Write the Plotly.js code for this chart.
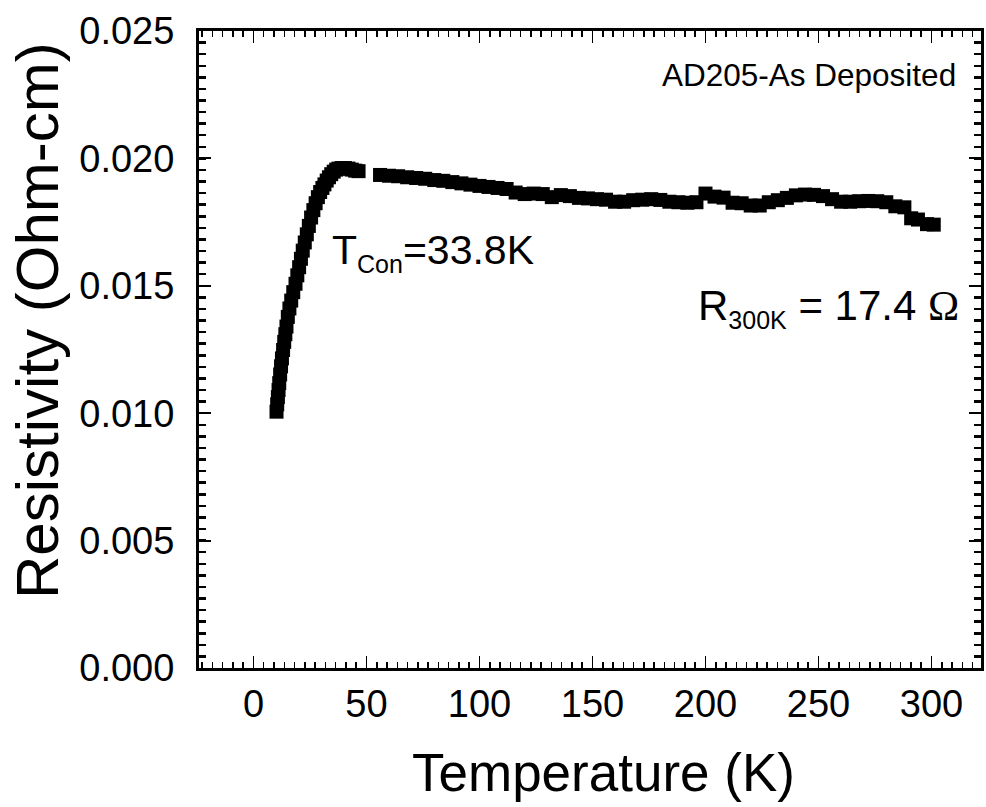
<!DOCTYPE html>
<html><head><meta charset="utf-8">
<script src="https://cdn.plot.ly/plotly-3.0.1.min.js"></script>
<style>html,body{margin:0;padding:0;background:#fff}</style>
</head><body>
<div id="chart" style="width:986px;height:807px"></div>
<script>
// Temperature (K) and resistivity (Ohm-cm)
const temperature = [
  10.2, 10.5, 10.8, 11.1, 11.4, 11.8, 12.2, 12.6, 13.1, 13.6, 14.1, 14.6, 15.2, 15.9, 16.7, 17.6,
  18.6, 19.4, 20.2, 21.0, 21.8, 22.7, 23.6, 24.5, 25.5, 26.5, 27.5, 28.5, 29.5, 30.5, 31.4, 32.4,
  33.4, 34.4, 35.5, 36.6, 37.6, 39.0, 40.5, 42.0, 43.5, 45.0, 46.5,
  56, 60, 64, 68, 72, 76, 80, 84, 88, 92, 96, 100, 104, 108, 112, 116, 120, 124, 128, 132, 136,
  140, 144, 148, 152, 156, 160, 164, 168, 172, 176, 180, 184, 188, 192, 196, 200, 204, 208, 212,
  216, 220, 224, 228, 232, 236, 240, 244, 248, 252, 256, 260, 264, 268, 272, 276, 280, 284, 288,
  291, 294, 298, 301
];
const resistivity = [
  0.01006, 0.01035, 0.01063, 0.01091, 0.01118, 0.01152, 0.01184, 0.01215, 0.01248, 0.01280, 0.01310,
  0.01340, 0.01378, 0.01411, 0.01442, 0.01475, 0.01508, 0.01541, 0.01573, 0.01606, 0.01638, 0.01670,
  0.01702, 0.01735, 0.01768, 0.01797, 0.01824, 0.01848, 0.01868, 0.01884, 0.01898, 0.01913, 0.01926,
  0.01938, 0.01948, 0.01956, 0.01960, 0.01962, 0.01962, 0.01960, 0.01956, 0.01952, 0.01950,
  0.01935, 0.01932, 0.01930, 0.01926, 0.01923, 0.01920, 0.01915, 0.01912, 0.01907, 0.01902, 0.01897,
  0.01892, 0.01888, 0.01884, 0.01880, 0.01866, 0.01860, 0.01862, 0.01860, 0.01848, 0.01856, 0.01852,
  0.01845, 0.01843, 0.01840, 0.01838, 0.01830, 0.01830, 0.01836, 0.01838, 0.01840, 0.01837, 0.01830,
  0.01828, 0.01826, 0.01828, 0.01862, 0.01850, 0.01846, 0.01826, 0.01824, 0.01815, 0.01815, 0.01828,
  0.01836, 0.01845, 0.01855, 0.01858, 0.01857, 0.01852, 0.01840, 0.01830, 0.01830, 0.01832, 0.01833,
  0.01832, 0.01828, 0.01812, 0.01808, 0.01765, 0.01760, 0.01742, 0.01740
];
const xTickVals = [0, 50, 100, 150, 200, 250, 300];
const xTickText = ['0', '50', '100', '150', '200', '250', '300'];
const yTickVals = [0, 0.005, 0.010, 0.015, 0.020, 0.025];
const yTickText = ['0.000', '0.005', '0.010', '0.015', '0.020', '0.025'];
const xTitle = 'Temperature (K)';
const yTitle = 'Resistivity (Ohm-cm)';

const FONT = 'Liberation Sans, Arial, sans-serif';

const trace = {
  x: temperature,
  y: resistivity,
  type: 'scatter',
  mode: 'markers',
  marker: {symbol: 'square', size: 14, color: '#000', line: {width: 0}},
  hoverinfo: 'x+y',
  showlegend: false
};

const axisCommon = {
  showline: true, linecolor: '#000', linewidth: 3, mirror: 'allticks',
  showgrid: false, zeroline: false,
  ticks: 'inside', tickcolor: '#000', tickmode: 'array',
  tickfont: {family: FONT, size: 38, color: '#000'}
};

const layout = {
  width: 986, height: 807,
  margin: {l: 198.5, r: 4.5, t: 30.5, b: 138.5, pad: 0},
  paper_bgcolor: '#fff', plot_bgcolor: '#fff',
  font: {family: FONT, color: '#000'},
  xaxis: Object.assign({}, axisCommon, {
    range: [-24.1, 321.9],
    tickvals: xTickVals, ticktext: xTickText,
    ticklen: 12, tickwidth: 1.5, ticklabelstandoff: 0,
    minor: {ticks: 'inside', tickmode: 'linear', tick0: 0, dtick: 50 / 11, ticklen: 6, tickwidth: 1.5, tickcolor: '#000'}
  }),
  yaxis: Object.assign({}, axisCommon, {
    range: [0, 0.025],
    tickvals: yTickVals, ticktext: yTickText,
    ticklen: 12, tickwidth: 2, ticklabelstandoff: 14,
    minor: {ticks: 'inside', tickmode: 'linear', tick0: 0, dtick: 0.005 / 11, ticklen: 7, tickwidth: 2.5, tickcolor: '#000'}
  }),
  annotations: [
    // axis titles (placed as in the reference, slightly off-centre)
    {xref: 'paper', yref: 'paper', x: 0.5179, y: -0.1647, xanchor: 'center', yanchor: 'middle',
     text: xTitle, showarrow: false, font: {family: FONT, size: 53, color: '#000'}},
    {xref: 'paper', yref: 'paper', x: -0.2073, y: 0.5462, xanchor: 'center', yanchor: 'middle', textangle: -90,
     text: yTitle, showarrow: false, font: {family: FONT, size: 60, color: '#000'}},
    {xref: 'paper', yref: 'paper', x: 0.970, y: 0.931, xanchor: 'right', yanchor: 'middle',
     text: 'AD205-As Deposited', showarrow: false, font: {family: FONT, size: 31.5, color: '#000'}},
    {xref: 'paper', yref: 'paper', x: 0.168, y: 0.652, xanchor: 'left', yanchor: 'middle',
     text: 'T<sub><span style="font-size:25px">Con</span></sub>=33.8K', showarrow: false,
     font: {family: FONT, size: 41, color: '#000'}},
    {xref: 'paper', yref: 'paper', x: 0.636, y: 0.565, xanchor: 'left', yanchor: 'middle',
     text: 'R<sub><span style="font-size:25px">300K</span></sub> = 17.4 <span style="font-family:Liberation Serif">Ω</span>', showarrow: false,
     font: {family: FONT, size: 42, color: '#000'}}
  ]
};

Plotly.newPlot('chart', [trace], layout, {displayModeBar: false, staticPlot: true});
</script>
</body></html>
